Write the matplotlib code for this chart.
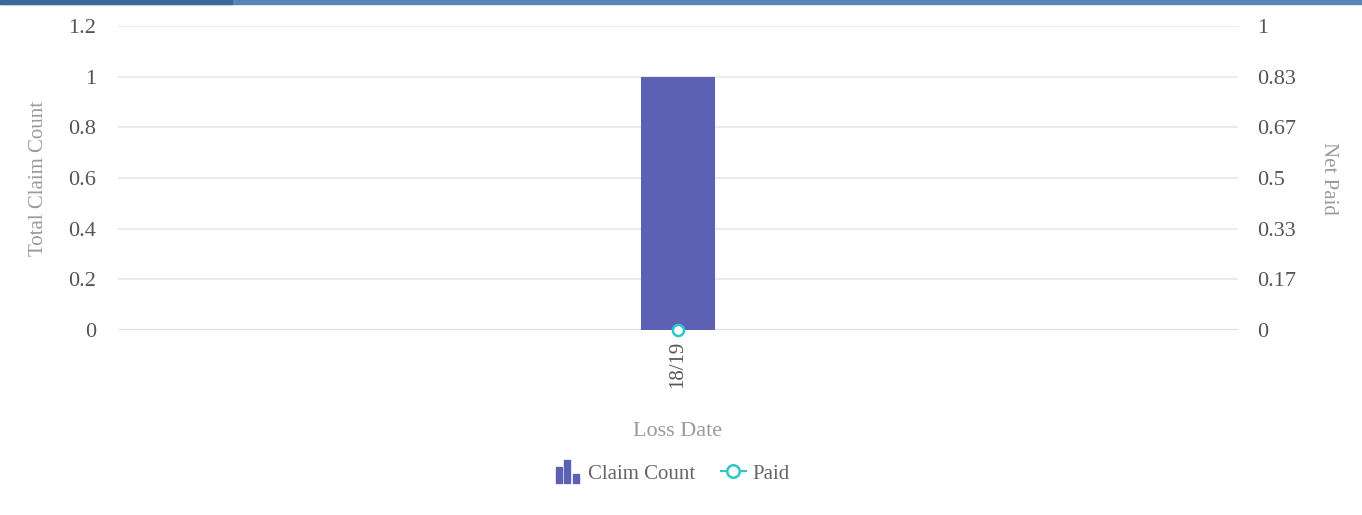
import numpy as np
import matplotlib
matplotlib.use('Agg')
import matplotlib.pyplot as plt
from matplotlib.patches import Rectangle
from matplotlib.legend_handler import HandlerBase
from matplotlib.lines import Line2D

periods = ['18/19']
claim_count = [1]
net_paid = [0]

left_ticks = [0, 0.2, 0.4, 0.6, 0.8, 1, 1.2]
right_ticks = [0, 1/6, 2/6, 3/6, 4/6, 5/6, 1]

bar_col = '#5d61b4'
line_col = '#2ec7c9'
tick_col = '#555555'
title_col = '#9a9a9a'

plt.rcParams['font.family'] = ['Liberation Serif', 'DejaVu Serif']

fig = plt.figure(figsize=(13.62, 5.15), dpi=100)
W, H = 1362, 515
ax = fig.add_axes([118/W, 1 - 330/H, 1120/W, 304/H])
ax2 = ax.twinx()

x = np.arange(len(periods))
ax.bar(x, claim_count, width=0.066, color=bar_col, zorder=2)
ax2.plot(x, net_paid, color=line_col, lw=1.5, marker='o', ms=8,
         mfc='white', mec=line_col, mew=1.8, zorder=5, clip_on=False)

ax.set_xlim(-0.5, 0.5)
ax.set_ylim(0, 1.2)
ax2.set_ylim(0, 1)
ax.set_yticks(left_ticks)
ax.set_yticklabels([('%g' % t) for t in left_ticks])
ax2.set_yticks(right_ticks)
ax2.set_yticklabels([('%.2f' % t).rstrip('0').rstrip('.') for t in right_ticks])
ax.set_xticks(x)
ax.set_xticklabels(periods, rotation=90)

for a in (ax, ax2):
    for s in a.spines.values():
        s.set_visible(False)
    a.tick_params(length=0, labelsize=16, colors=tick_col)
ax.tick_params(axis='y', pad=16)
ax2.tick_params(axis='y', pad=14)
ax.tick_params(axis='x', pad=8, labelsize=15)
ax.set_axisbelow(True)
ax.grid(axis='y', color='#ebebeb', lw=1.5)
ax.axhline(0, color='#e0e0e0', lw=1.5, zorder=1)

ax.set_ylabel('Total Claim Count', fontsize=15, color=title_col, labelpad=14)
ax2.set_ylabel('Net Paid', fontsize=15, color=title_col, rotation=270, labelpad=30)
ax.set_xlabel('Loss Date', fontsize=16, color=title_col, labelpad=24)

class BarIcon(HandlerBase):
    def create_artists(self, legend, orig, xd, yd, width, height, fontsize, trans):
        out = []
        px = width / 25.0
        for i, h in enumerate([16, 23, 9]):
            r = Rectangle((xd + i * 8.3 * px, yd - 4 * px), 6 * px, h * px,
                          color=bar_col, transform=trans)
            out.append(r)
        return out

bar_handle = Rectangle((0, 0), 1, 1, color=bar_col)
line_handle = Line2D([], [], color=line_col, lw=1.5, marker='o', ms=9,
                     mfc='white', mec=line_col, mew=1.8)
leg = fig.legend([bar_handle, line_handle], ['Claim Count', 'Paid'],
                 handler_map={Rectangle: BarIcon()},
                 loc='center', bbox_to_anchor=(673/W, 1 - 474/H), ncol=2,
                 frameon=False, fontsize=15, handlelength=1.2, columnspacing=1.2,
                 handletextpad=0.35)
for t in leg.get_texts():
    t.set_color('#666666')

# header strip
fig.patches.append(Rectangle((0, 1 - 4/H), 1, 4/H, transform=fig.transFigure,
                             color='#5a86b7', zorder=10))
fig.patches.append(Rectangle((0, 1 - 4/H), 232/W, 4/H, transform=fig.transFigure,
                             color='#3d6898', zorder=11))

fig.savefig('out.png', dpi=100)
